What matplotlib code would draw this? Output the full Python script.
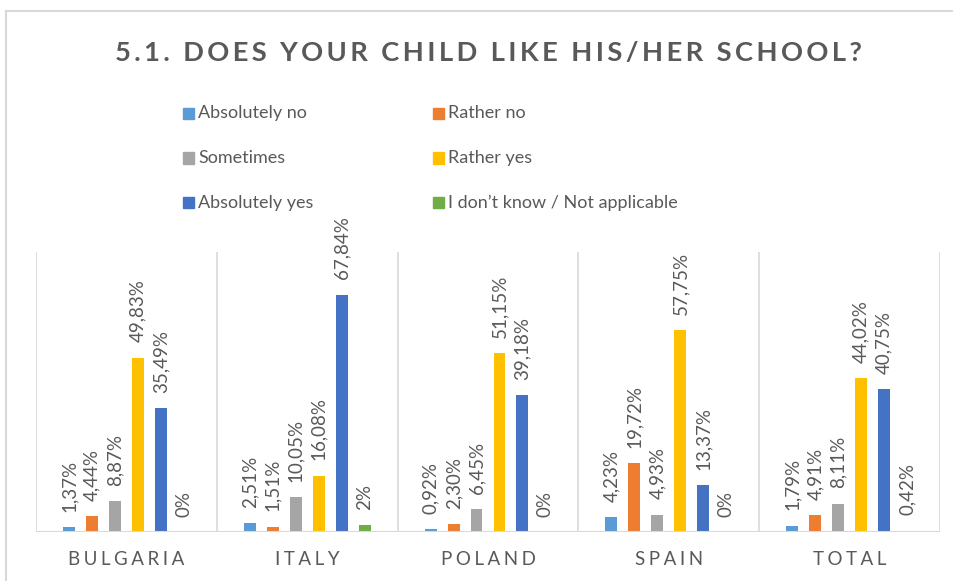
import numpy as np
import matplotlib
matplotlib.use("Agg")
import matplotlib.pyplot as plt
from matplotlib.patches import Rectangle
from matplotlib.lines import Line2D

plt.rcParams['font.family'] = ['Lato', 'DejaVu Sans']

# ── Data ──────────────────────────────────────────────────────────────────────
TITLE     = "5.1. DOES YOUR CHILD LIKE HIS/HER SCHOOL?"
COUNTRIES = ["BULGARIA", "ITALY", "POLAND", "SPAIN", "TOTAL"]
ANSWERS   = ["Absolutely no", "Rather no", "Sometimes", "Rather yes",
             "Absolutely yes", "I don’t know / Not applicable"]

absolutely_no  = [1.37, 2.51, 0.92, 4.23, 1.79]
rather_no      = [4.44, 1.51, 2.30, 19.72, 4.91]
sometimes      = [8.87, 10.05, 6.45, 4.93, 8.11]
rather_yes     = [49.83, 16.08, 51.15, 57.75, 44.02]
absolutely_yes = [35.49, 67.84, 39.18, 13.37, 40.75]
dont_know      = [0, 2, 0, 0, 0.42]

SERIES = [absolutely_no, rather_no, sometimes, rather_yes, absolutely_yes, dont_know]
COLORS = ["#5B9BD5", "#ED7D31", "#A5A5A5", "#FFC000", "#4472C4", "#70AD47"]

TEXT_COLOR = "#595959"
GRID_COLOR = "#D9D9D9"


def fmt(v):
    if float(v).is_integer():
        return f"{int(v)}%"
    return f"{v:.2f}".replace(".", ",") + "%"


def spaced(s, sep="\u2009"):
    return sep.join(s)


# ── Figure ────────────────────────────────────────────────────────────────────
W, H = 954, 581
fig = plt.figure(figsize=(W / 100, H / 100), dpi=100)
ax = fig.add_axes([36 / W, (H - 532) / H, 904 / W, 280 / H])

x = np.arange(len(COUNTRIES))
slot = 0.127
width = 0.066
n = len(SERIES)

for i, (vals, col) in enumerate(zip(SERIES, COLORS)):
    pos = x + (i - (n - 1) / 2) * slot
    ax.bar(pos, vals, width=width, color=col, zorder=3)
    for px, v in zip(pos, vals):
        ax.annotate(fmt(v), (px, v), xytext=(0, 11), textcoords="offset points",
                    rotation=90, ha="center", va="bottom",
                    fontsize=13.5, color=TEXT_COLOR)

ax.set_xlim(-0.5, len(COUNTRIES) - 0.5)
ax.set_ylim(0, 80)

# category separators and baseline
for b in np.arange(-0.5, len(COUNTRIES), 1.0):
    ax.axvline(b, color=GRID_COLOR, lw=1.2, zorder=1)
ax.axhline(0, color=GRID_COLOR, lw=1.5, zorder=4)

for sp in ax.spines.values():
    sp.set_visible(False)
ax.set_yticks([])
ax.set_xticks(x)
ax.set_xticklabels([spaced(c, "\u2009\u200a") for c in COUNTRIES], fontsize=13.5,
                   color=TEXT_COLOR)
ax.tick_params(axis="x", length=0, pad=14)

# title
fig.text(488.5 / W, 1 - 53 / H, spaced(TITLE), ha="center", va="center",
         fontsize=19.7, fontweight="bold", color=TEXT_COLOR)

# legend, laid out like the Excel one (row-major, 2 columns)
for i, (lab, col) in enumerate(zip(ANSWERS, COLORS)):
    r, c = divmod(i, 2)
    mx = 183 + c * 250
    my = 113 + r * 45
    fig.patches.append(Rectangle((mx / W, 1 - (my + 5.5) / H), 11 / W, 11 / H,
                                 transform=fig.transFigure, color=col))
    fig.text((mx + 15) / W, 1 - my / H, lab, ha="left", va="center",
             fontsize=13, color=TEXT_COLOR)

# outer chart frame (cropped at right and bottom)
fig.add_artist(Line2D([6 / W, 1], [1 - 11 / H, 1 - 11 / H],
                      transform=fig.transFigure, color=GRID_COLOR, lw=1.5))
fig.add_artist(Line2D([6.5 / W, 6.5 / W], [0, 1 - 11 / H],
                      transform=fig.transFigure, color=GRID_COLOR, lw=1.5))

fig.savefig("out.png", dpi=100)
